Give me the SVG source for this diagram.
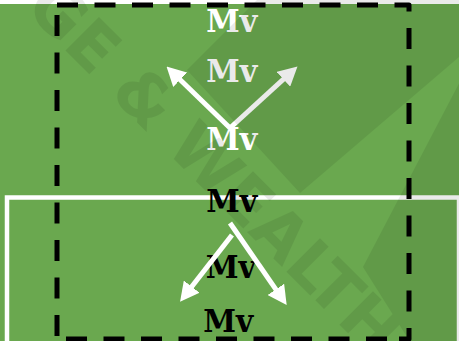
<svg xmlns="http://www.w3.org/2000/svg" width="459" height="341" viewBox="0 0 459 341">
  <defs>
    <style>
      .mv { font-family: "DejaVu Serif", "Liberation Serif", serif; font-weight: bold; font-size: 32px; text-anchor: middle; }
      .light { fill: #ffffff; }
      .dark { fill: #000000; }
      .pitch-line { fill: none; stroke: #ffffff; }
      .zone { fill: none; stroke: #000000; stroke-width: 5; stroke-dasharray: 21 16.5; stroke-linejoin: round; }
      .arrow { fill: none; stroke: #ffffff; stroke-width: 5; marker-end: url(#head); }
      .mark { fill: #000000; }
    </style>
    <marker id="head" markerUnits="userSpaceOnUse" viewBox="0 0 19 20" refX="9" refY="10" markerWidth="19" markerHeight="20" orient="auto">
      <path d="M0,0 L19,10 L0,20 z" fill="#ffffff"/>
    </marker>
  </defs>

  <!-- grass -->
  <rect x="0" y="0" width="459" height="341" fill="#6aa84f"/>

  <!-- pitch markings -->
  <g id="pitch">
    <line class="pitch-line" x1="0" y1="2" x2="459" y2="2" stroke-width="4"/>
    <rect class="pitch-line" x="7" y="197.5" width="452" height="200" stroke-width="4.5"/>
  </g>

  <!-- dashed zone -->
  <g id="zone">
    <path class="zone" d="M57,5 H409 V339 H399"/>
    <path class="zone" d="M387,339 H57"/>
    <path class="zone" d="M57,15 V336"/>
  </g>

  <!-- players -->
  <g id="mv-top"><text class="mv light" x="231.7" y="32" textLength="51" lengthAdjust="spacingAndGlyphs">Mv</text></g>
  <g id="mv-upper"><text class="mv light" x="231.7" y="82" textLength="51" lengthAdjust="spacingAndGlyphs">Mv</text></g>
  <g id="mv-mid"><text class="mv light" x="231.7" y="150" textLength="51" lengthAdjust="spacingAndGlyphs">Mv</text></g>
  <g id="mv-line"><text class="mv dark" x="231.7" y="212" textLength="51" lengthAdjust="spacingAndGlyphs">Mv</text></g>
  <g id="mv-lower"><text class="mv dark" x="230.8" y="278" textLength="50" lengthAdjust="spacingAndGlyphs">Mv</text></g>
  <g id="mv-bottom"><text class="mv dark" x="228.3" y="332" textLength="50" lengthAdjust="spacingAndGlyphs">Mv</text></g>

  <!-- movement arrows -->
  <g id="connectors">
    <line class="arrow" x1="230" y1="128" x2="173.7" y2="73.5"/>
    <line class="arrow" x1="230" y1="128" x2="290.1" y2="73.2"/>
    <line class="arrow" x1="232" y1="235" x2="186.2" y2="293.8"/>
    <line class="arrow" x1="230" y1="223" x2="281" y2="296.8"/>
  </g>

  <!-- faint logo overlay -->
  <g id="watermark" opacity="0.08">
    <polygon class="mark" points="187,70 264,-7 466,-7 466,51 300,193"/>
    <polygon class="mark" points="363,267 466,70 466,348 414,348"/>
    <text class="mark" transform="rotate(45)" x="22.6" y="-10.5" font-family="DejaVu Sans, sans-serif" font-weight="bold" font-size="65">GE &amp; WEALTH</text>
  </g>
</svg>
